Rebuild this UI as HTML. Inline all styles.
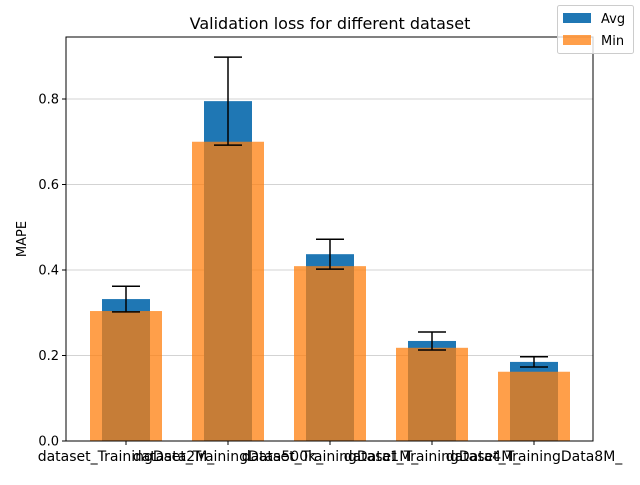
<!DOCTYPE html>
<html><head><meta charset="utf-8"><style>
body{margin:0;background:#fff;font-family:"Liberation Sans","DejaVu Sans",sans-serif;}
svg text{font-family:"DejaVu Sans","Liberation Sans",sans-serif;}
</style></head><body>
<svg id="c" width="640" height="480" xmlns="http://www.w3.org/2000/svg">
<rect width="640" height="480" fill="#fff"/>
<g id="grid"></g><g id="bars"></g><g id="axes"></g>
<text x="330" y="29" text-anchor="middle" font-size="16">Validation loss for different dataset</text>
<text transform="translate(26,239) rotate(-90)" text-anchor="middle" font-size="13">MAPE</text>
<g>
<rect x="557.5" y="5.5" width="76" height="48" rx="2" fill="#fff" fill-opacity="0.8" stroke="#ccc"/>
<g><rect x="563" y="13" width="28" height="10" fill="#1f77b4"/><text x="601" y="23" font-size="13">Avg</text></g>
<g><rect x="563" y="35" width="28" height="10" fill="#ff7f0e" fill-opacity="0.75"/><text x="601" y="45" font-size="13">Min</text></g>
</g>
</svg>
<script>
const categories=["dataset_TrainingData2M_","dataset_TrainingData500k_","dataset_TrainingData1M_","dataset_TrainingData4M_","dataset_TrainingData8M_"];
const avgValues=[0.332,0.795,0.437,0.234,0.185];
const minValues=[0.304,0.700,0.409,0.218,0.162];
const errValues=[0.030,0.103,0.035,0.021,0.012];
const yTicks=[0,0.2,0.4,0.6,0.8];
const NS="http://www.w3.org/2000/svg";
const L=66,R=593,T=37,B=441;
const y=v=>B-v*427.5;
const x=i=>126+i*102;
function mk(tag,attrs,parent){const e=document.createElementNS(NS,tag);for(const k in attrs)e.setAttribute(k,attrs[k]);parent.appendChild(e);return e;}
const grid=document.getElementById('grid'),bars=document.getElementById('bars'),axes=document.getElementById('axes');
yTicks.forEach(t=>{
 const g=mk('line',{x1:L,x2:R,y1:y(t),y2:y(t),stroke:'#d3d3d3','stroke-width':1},grid);
 
 
 mk('line',{x1:L-4,x2:L,y1:y(t),y2:y(t),stroke:'#000'},axes);
 const tx=mk('text',{x:L-7,y:y(t)+4.5,'text-anchor':'end','font-size':13},axes);
 tx.textContent=t.toFixed(1);
 
 
});
categories.forEach((c,i)=>{
 const a=mk('rect',{x:x(i)-24,y:y(avgValues[i]),width:48,height:B-y(avgValues[i]),fill:'#1f77b4'},bars);
 
 
 const m=mk('rect',{x:x(i)-36,y:y(minValues[i]),width:72,height:B-y(minValues[i]),fill:'#ff7f0e','fill-opacity':0.75},bars);
 
 
 const g=mk('g',{stroke:'#000','stroke-width':1.5},bars);
 
 
 const hi=y(avgValues[i]+errValues[i]),lo=y(avgValues[i]-errValues[i]);
 mk('line',{x1:x(i),x2:x(i),y1:hi,y2:lo},g);
 mk('line',{x1:x(i)-14,x2:x(i)+14,y1:hi,y2:hi},g);
 mk('line',{x1:x(i)-14,x2:x(i)+14,y1:lo,y2:lo},g);
 mk('line',{x1:x(i),x2:x(i),y1:B,y2:B+4,stroke:'#000'},axes);
 const tx=mk('text',{x:x(i),y:B+20,'text-anchor':'middle','font-size':14},axes);
 tx.textContent=c;
 
 
});
const fr=mk('rect',{x:L,y:T,width:R-L,height:B-T,fill:'none',stroke:'#000','stroke-width':1},axes);


</script>
</body></html>
